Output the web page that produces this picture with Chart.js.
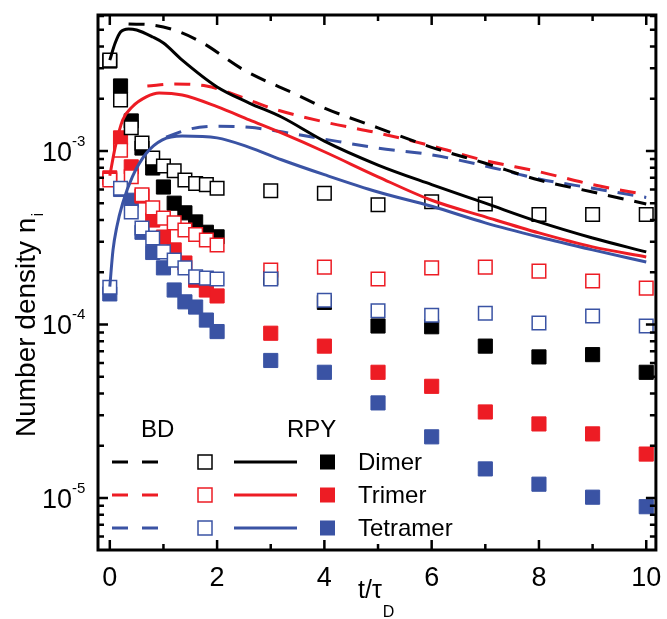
<!DOCTYPE html>
<html>
<head>
<meta charset="utf-8">
<script src="https://cdn.jsdelivr.net/npm/chart.js@4.4.1/dist/chart.umd.min.js"></script>
<style>
  html, body { margin: 0; padding: 0; background: #fff; }
  #wrap { width: 667px; height: 619px; }
</style>
</head>
<body>
<div id="wrap"><canvas id="densityChart" width="667" height="619"></canvas></div>
<script>
// marker times (t / tau_D)
const tPoints = [0, 0.2, 0.4, 0.6, 0.8, 1.0, 1.2, 1.4, 1.6, 1.8, 2.0, 3, 4, 5, 6, 7, 8, 9, 10];

// BD = open squares, RPY = filled squares
const dimerBD     = [3.34e-3, 1.97e-3, 1.36e-3, 1.11e-3, 9.1e-4, 8.2e-4, 7.7e-4, 6.8e-4, 6.5e-4, 6.4e-4, 6.1e-4, 5.9e-4, 5.7e-4, 4.9e-4, 5.1e-4, 4.95e-4, 4.3e-4, 4.3e-4, 4.3e-4];
const dimerRPY    = [3.3e-3, 2.37e-3, 1.49e-3, 1.04e-3, 7.98e-4, 6.2e-4, 5.0e-4, 4.4e-4, 3.9e-4, 3.4e-4, 3.2e-4, 1.85e-4, 1.34e-4, 9.8e-5, 9.7e-5, 7.5e-5, 6.5e-5, 6.7e-5, 5.3e-5];
const trimerBD    = [6.8e-4, 1.01e-3, 7.1e-4, 5.6e-4, 4.7e-4, 4.1e-4, 3.85e-4, 3.5e-4, 3.3e-4, 3.07e-4, 2.87e-4, 2.06e-4, 2.14e-4, 1.83e-4, 2.12e-4, 2.14e-4, 2.03e-4, 1.78e-4, 1.62e-4];
const trimerRPY   = [7.0e-4, 1.19e-3, 8.1e-4, 5.5e-4, 4.0e-4, 3.19e-4, 2.69e-4, 2.26e-4, 1.8e-4, 1.58e-4, 1.46e-4, 8.9e-5, 7.5e-5, 5.3e-5, 4.4e-5, 3.13e-5, 2.67e-5, 2.34e-5, 1.79e-5];
const tetramerBD  = [1.64e-4, 6.1e-4, 4.45e-4, 3.6e-4, 3.15e-4, 2.62e-4, 2.35e-4, 2.12e-4, 1.88e-4, 1.85e-4, 1.83e-4, 1.83e-4, 1.38e-4, 1.2e-4, 1.13e-4, 1.16e-4, 1.02e-4, 1.12e-4, 9.8e-5];
const tetramerRPY = [1.5e-4, 6.0e-4, 5.2e-4, 3.4e-4, 2.6e-4, 2.12e-4, 1.58e-4, 1.35e-4, 1.26e-4, 1.06e-4, 9.1e-5, 6.2e-5, 5.3e-5, 3.53e-5, 2.25e-5, 1.47e-5, 1.2e-5, 1.01e-5, 8.9e-6];

// model curves: solid = RPY, dashed = BD
const dimerRPYCurveT  = [0, 0.1, 0.2, 0.35, 0.5, 0.8, 1.0, 1.35, 2, 2.6, 3.2, 4, 5, 6, 7, 8, 9, 10];
const dimerRPYCurve   = [3.34e-3, 4.19e-3, 4.85e-3, 5.05e-3, 4.98e-3, 4.54e-3, 4.19e-3, 3.34e-3, 2.34e-3, 1.89e-3, 1.57e-3, 1.14e-3, 8.3e-4, 6.4e-4, 5.0e-4, 3.9e-4, 3.15e-4, 2.62e-4];
const dimerBDCurveT   = [0.35, 0.8, 1.2, 1.7, 2.5, 3.5, 4, 5, 6, 7, 8, 9, 10];
const dimerBDCurve    = [5.4e-3, 5.32e-3, 4.98e-3, 4.25e-3, 2.93e-3, 2.1e-3, 1.77e-3, 1.36e-3, 1.05e-3, 8.5e-4, 6.8e-4, 5.8e-4, 4.95e-4];
const trimerRPYCurveT = [0, 0.1, 0.24, 0.42, 0.68, 0.92, 1.35, 2, 2.6, 3.2, 4, 5, 6, 7, 8, 9, 10];
const trimerRPYCurve  = [7.2e-4, 1.05e-3, 1.51e-3, 1.8e-3, 2.05e-3, 2.16e-3, 2.1e-3, 1.8e-3, 1.51e-3, 1.27e-3, 9.9e-4, 7.1e-4, 5.2e-4, 4.17e-4, 3.37e-4, 2.8e-4, 2.45e-4];
const trimerBDCurveT  = [0.7, 1.2, 1.8, 2.5, 3, 4, 5, 6, 7, 8, 9, 10];
const trimerBDCurve   = [2.37e-3, 2.43e-3, 2.37e-3, 2.02e-3, 1.77e-3, 1.47e-3, 1.27e-3, 1.07e-3, 8.8e-4, 7.6e-4, 6.4e-4, 5.6e-4];
const tetraRPYCurveT  = [0, 0.06, 0.13, 0.24, 0.42, 0.68, 0.98, 1.35, 2, 2.6, 3.2, 4, 5, 6, 7, 8, 9, 10];
const tetraRPYCurve   = [1.65e-4, 2.69e-4, 3.65e-4, 5.0e-4, 7.1e-4, 9.7e-4, 1.16e-3, 1.22e-3, 1.19e-3, 1.05e-3, 8.9e-4, 7.3e-4, 5.8e-4, 4.8e-4, 3.85e-4, 3.19e-4, 2.69e-4, 2.29e-4];
const tetraBDCurveT   = [1.05, 1.5, 2, 2.6, 3.2, 4, 5, 6, 7, 8, 9, 10];
const tetraBDCurve    = [1.2e-3, 1.34e-3, 1.39e-3, 1.37e-3, 1.29e-3, 1.17e-3, 1.04e-3, 9.5e-4, 8.2e-4, 6.9e-4, 6.1e-4, 5.4e-4];

const seriesNames = ['Dimer', 'Trimer', 'Tetramer'];
const groupNames = ['BD', 'RPY'];
const xTickValues = [0, 2, 4, 6, 8, 10];
const xMinorValues = [1, 3, 5, 7, 9];
const yTickValues = [1e-5, 1e-4, 1e-3];

const COLORS = ['#000000', '#ed1c24', '#3a53a4'];
const FONT = '"Liberation Sans", Arial, sans-serif';

function pts(xs, ys) {
    return xs.map((x, i) => ({ x: x, y: ys[i] }));
}

function curve(xs, ys, color, dashed) {
    return {
        data: pts(xs, ys),
        showLine: true,
        borderColor: color,
        borderWidth: 3,
        borderDash: dashed ? [16, 11] : [],
        pointRadius: 0,
        cubicInterpolationMode: 'monotone',
        fill: false,
        order: 0
    };
}

function markers(ys, color, open) {
    return {
        data: pts(tPoints, ys),
        showLine: false,
        pointStyle: 'rect',
        pointRadius: open ? 9.6 : 10,
        pointBackgroundColor: open ? '#ffffff' : color,
        pointBorderColor: color,
        pointBorderWidth: open ? 1.5 : 1,
        order: open ? 1 : 2
    };
}

// axes frame, inward ticks, tick labels, titles and the two-column legend
const decorPlugin = {
    id: 'decor',
    afterDraw(chart) {
        const { ctx, chartArea: a, scales: { x, y } } = chart;
        ctx.save();
        ctx.strokeStyle = '#000';
        ctx.fillStyle = '#000';

        // ticks
        ctx.lineWidth = 2.5;
        ctx.beginPath();
        xTickValues.concat(xMinorValues).forEach(v => {
            const px = x.getPixelForValue(v);
            const len = xTickValues.includes(v) ? 10 : 6;
            ctx.moveTo(px, a.bottom); ctx.lineTo(px, a.bottom - len);
            ctx.moveTo(px, a.top); ctx.lineTo(px, a.top + len);
        });
        for (let e = -6; e <= -2; e++) {
            for (let m = 1; m <= 9; m++) {
                const v = m * Math.pow(10, e);
                if (v < y.min || v > y.max) continue;
                const py = y.getPixelForValue(v);
                const len = m === 1 ? 10 : 6;
                ctx.moveTo(a.left, py); ctx.lineTo(a.left + len, py);
                ctx.moveTo(a.right, py); ctx.lineTo(a.right - len, py);
            }
        }
        ctx.stroke();

        // frame
        ctx.lineWidth = 3;
        ctx.strokeRect(a.left, a.top, a.right - a.left, a.bottom - a.top);

        // y tick labels 10^n
        yTickValues.forEach(v => {
            const py = y.getPixelForValue(v);
            ctx.font = '27px ' + FONT;
            ctx.textAlign = 'right';
            ctx.textBaseline = 'alphabetic';
            ctx.fillText('10', 72, py + 10);
            ctx.font = '15px ' + FONT;
            ctx.textAlign = 'left';
            ctx.fillText('-' + Math.abs(Math.round(Math.log10(v))), 72, py - 5);
        });

        // y title
        ctx.save();
        ctx.translate(35, 437);
        ctx.rotate(-Math.PI / 2);
        ctx.font = '28px ' + FONT;
        ctx.textAlign = 'left';
        ctx.textBaseline = 'alphabetic';
        const yTitle = 'Number density n';
        ctx.fillText(yTitle, 0, 0);
        const w = ctx.measureText(yTitle).width;
        ctx.font = '17px ' + FONT;
        ctx.fillText('i', w + 1, 8);
        ctx.restore();

        // x title
        ctx.font = '25px ' + FONT;
        ctx.textAlign = 'left';
        ctx.fillText('t/τ', 358, 598);
        const wx = ctx.measureText('t/τ').width;
        ctx.font = '16px ' + FONT;
        ctx.fillText('D', 358 + wx + 1, 617);

        // legend
        ctx.font = '24px ' + FONT;
        ctx.fillText(groupNames[0], 141, 437);
        ctx.fillText(groupNames[1], 287, 437);
        const rows = [462, 495, 528];
        seriesNames.forEach((name, i) => {
            const ry = rows[i];
            const c = COLORS[i];
            ctx.strokeStyle = c;
            ctx.lineWidth = 3;
            ctx.setLineDash([16, 14]);
            ctx.beginPath(); ctx.moveTo(112, ry); ctx.lineTo(160, ry); ctx.stroke();
            ctx.setLineDash([]);
            ctx.beginPath(); ctx.moveTo(234, ry); ctx.lineTo(297, ry); ctx.stroke();
            ctx.lineWidth = 1.5;
            ctx.fillStyle = '#fff';
            ctx.fillRect(198, ry - 7, 14, 14);
            ctx.strokeRect(198, ry - 7, 14, 14);
            ctx.fillStyle = c;
            ctx.fillRect(320, ry - 7.5, 15, 15);
            ctx.fillStyle = '#000';
            ctx.font = '24px ' + FONT;
            ctx.fillText(name, 358, ry + 8);
        });
        ctx.restore();
    }
};

document.addEventListener('DOMContentLoaded', () => {
    const ctx = document.getElementById('densityChart').getContext('2d');

    new Chart(ctx, {
        type: 'line',
        data: {
            datasets: [
                curve(dimerRPYCurveT, dimerRPYCurve, COLORS[0], false),
                curve(trimerRPYCurveT, trimerRPYCurve, COLORS[1], false),
                curve(tetraRPYCurveT, tetraRPYCurve, COLORS[2], false),
                curve(dimerBDCurveT, dimerBDCurve, COLORS[0], true),
                curve(trimerBDCurveT, trimerBDCurve, COLORS[1], true),
                curve(tetraBDCurveT, tetraBDCurve, COLORS[2], true),
                markers(tetramerBD, COLORS[2], true),
                markers(trimerBD, COLORS[1], true),
                markers(dimerBD, COLORS[0], true),
                markers(dimerRPY, COLORS[0], false),
                markers(trimerRPY, COLORS[1], false),
                markers(tetramerRPY, COLORS[2], false)
            ]
        },
        options: {
            responsive: false,
            animation: false,
            devicePixelRatio: 1,
            layout: { padding: { top: 15, right: 4, left: 0, bottom: 0 } },
            plugins: {
                legend: { display: false },
                tooltip: { enabled: false }
            },
            scales: {
                x: {
                    type: 'linear',
                    min: -0.22,
                    max: 10.18,
                    grid: { display: false, drawTicks: false },
                    border: { display: false },
                    ticks: {
                        color: '#000',
                        padding: 12,
                        maxRotation: 0,
                        font: { family: FONT, size: 27 }
                    },
                    afterBuildTicks: s => { s.ticks = xTickValues.map(v => ({ value: v })); },
                    afterFit: s => { s.height = 69; s.paddingLeft = 0; s.paddingRight = 0; }
                },
                y: {
                    type: 'logarithmic',
                    min: 5.01e-6,
                    max: 6.08e-3,
                    grid: { display: false, drawTicks: false },
                    border: { display: false },
                    ticks: { display: false },
                    afterFit: s => { s.width = 98; s.paddingTop = 0; s.paddingBottom = 0; }
                }
            }
        },
        plugins: [decorPlugin]
    });
});
</script>
</body>
</html>
